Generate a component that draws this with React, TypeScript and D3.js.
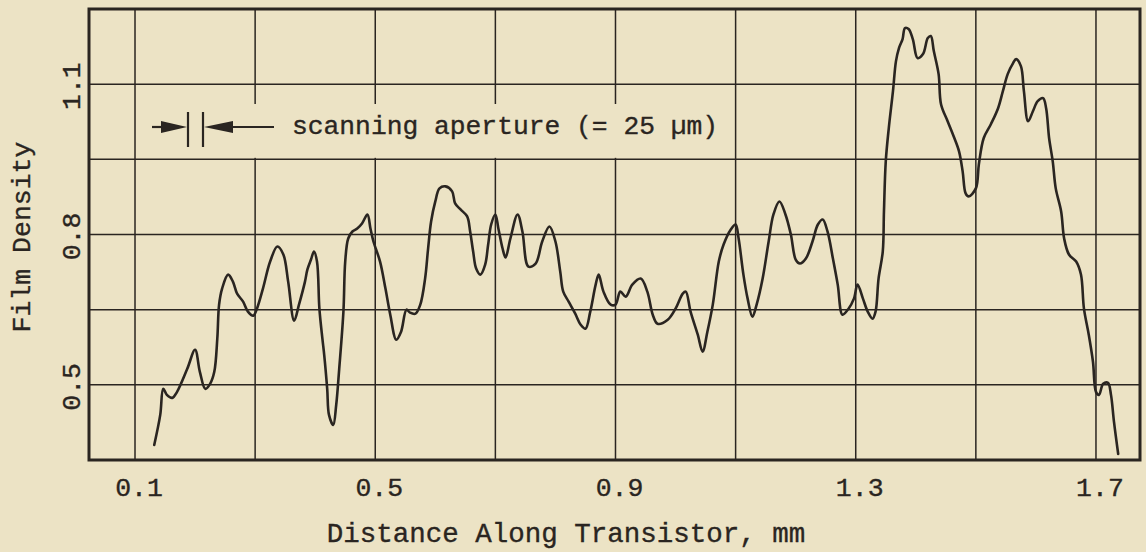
import React from "react";
import * as d3 from "d3";

const distance = [
  0.132, 0.142, 0.147, 0.153, 0.162, 0.170, 0.187, 0.200, 0.208, 0.217, 0.225, 0.232, 0.237, 0.240, 0.245, 0.255,
  0.263, 0.270, 0.280, 0.288, 0.297, 0.303, 0.313, 0.325, 0.337, 0.347, 0.355, 0.365, 0.373, 0.383, 0.387, 0.393,
  0.398, 0.403, 0.407, 0.412, 0.415, 0.420, 0.423, 0.430, 0.435, 0.440, 0.447, 0.450, 0.455, 0.462, 0.470, 0.478,
  0.487, 0.492, 0.497, 0.508, 0.517, 0.525, 0.535, 0.543, 0.552, 0.558, 0.567, 0.575, 0.583, 0.588, 0.593, 0.600,
  0.607, 0.617, 0.628, 0.633, 0.642, 0.653, 0.658, 0.663, 0.668, 0.675, 0.683, 0.688, 0.693, 0.700, 0.705, 0.712,
  0.717, 0.725, 0.737, 0.745, 0.755, 0.767, 0.778, 0.790, 0.800, 0.808, 0.813, 0.822, 0.833, 0.842, 0.850, 0.858,
  0.867, 0.872, 0.880, 0.892, 0.900, 0.908, 0.917, 0.928, 0.942, 0.953, 0.962, 0.970, 0.987, 1.000, 1.012, 1.017,
  1.025, 1.037, 1.045, 1.053, 1.062, 1.072, 1.080, 1.092, 1.100, 1.105, 1.113, 1.120, 1.128, 1.135, 1.145, 1.155,
  1.163, 1.173, 1.183, 1.192, 1.200, 1.207, 1.217, 1.228, 1.237, 1.245, 1.253, 1.262, 1.270, 1.278, 1.288, 1.297,
  1.303, 1.312, 1.320, 1.328, 1.333, 1.338, 1.345, 1.347, 1.350, 1.355, 1.362, 1.367, 1.372, 1.378, 1.382, 1.388,
  1.395, 1.403, 1.412, 1.420, 1.425, 1.430, 1.438, 1.442, 1.453, 1.463, 1.472, 1.478, 1.483, 1.488, 1.500, 1.505,
  1.513, 1.525, 1.537, 1.545, 1.553, 1.562, 1.567, 1.575, 1.580, 1.587, 1.595, 1.603, 1.612, 1.617, 1.622, 1.628,
  1.633, 1.642, 1.647, 1.655, 1.667, 1.675, 1.680, 1.688, 1.695, 1.700, 1.705, 1.712, 1.720, 1.725, 1.730, 1.737,
];

const density = [
  0.380, 0.440, 0.492, 0.480, 0.474, 0.486, 0.532, 0.570, 0.526, 0.492, 0.502, 0.526, 0.592, 0.660, 0.692, 0.720,
  0.706, 0.682, 0.666, 0.646, 0.638, 0.652, 0.692, 0.746, 0.776, 0.760, 0.706, 0.628, 0.660, 0.706, 0.730, 0.750,
  0.766, 0.746, 0.652, 0.592, 0.560, 0.492, 0.440, 0.420, 0.460, 0.532, 0.646, 0.746, 0.792, 0.806, 0.812, 0.822,
  0.840, 0.812, 0.786, 0.746, 0.692, 0.640, 0.590, 0.606, 0.650, 0.644, 0.642, 0.660, 0.712, 0.772, 0.826, 0.866,
  0.892, 0.896, 0.886, 0.862, 0.850, 0.836, 0.806, 0.766, 0.732, 0.720, 0.740, 0.780, 0.820, 0.840, 0.812, 0.772,
  0.754, 0.792, 0.840, 0.806, 0.736, 0.742, 0.786, 0.816, 0.786, 0.726, 0.686, 0.666, 0.642, 0.620, 0.612, 0.646,
  0.700, 0.720, 0.686, 0.660, 0.660, 0.686, 0.676, 0.700, 0.712, 0.686, 0.640, 0.622, 0.630, 0.652, 0.682, 0.686,
  0.646, 0.600, 0.566, 0.606, 0.660, 0.746, 0.780, 0.810, 0.820, 0.792, 0.720, 0.672, 0.636, 0.660, 0.712, 0.786,
  0.840, 0.866, 0.840, 0.800, 0.750, 0.742, 0.752, 0.786, 0.820, 0.830, 0.806, 0.752, 0.700, 0.640, 0.652, 0.672,
  0.700, 0.672, 0.646, 0.632, 0.646, 0.712, 0.766, 0.846, 0.946, 1.012, 1.086, 1.146, 1.172, 1.190, 1.212, 1.210,
  1.190, 1.152, 1.160, 1.192, 1.196, 1.166, 1.120, 1.060, 1.026, 0.996, 0.966, 0.926, 0.882, 0.876, 0.892, 0.940,
  0.992, 1.020, 1.052, 1.086, 1.120, 1.142, 1.150, 1.136, 1.086, 1.026, 1.046, 1.066, 1.072, 1.052, 0.992, 0.946,
  0.892, 0.846, 0.792, 0.760, 0.746, 0.720, 0.652, 0.600, 0.546, 0.486, 0.480, 0.502, 0.504, 0.480, 0.426, 0.362,
];

const xGridValues = [0.1, 0.3, 0.5, 0.7, 0.9, 1.1, 1.3, 1.5, 1.7];
const xTickLabels = ["0.1", "0.5", "0.9", "1.3", "1.7"];
const yGridValues = [0.5, 0.65, 0.8, 0.95, 1.1];
const yTickLabels = ["0.5", "0.8", "1.1"];

const xTitle = "Distance Along Transistor, mm";
const yTitle = "Film Density";
const annotation = "scanning aperture (= 25 \u00b5m)";

const W = 1146;
const H = 552;
const L = 89, R = 1140, T = 9, B = 460;
const INK = "#2a2521";
const BG = "#ece3c5";
const FONT = "'Liberation Mono', 'DejaVu Sans Mono', monospace";

export default function App() {
  const x = d3.scaleLinear().domain([0.0234, 1.7733]).range([L, R]);
  const y = d3.scaleLinear().domain([0.35, 1.25]).range([B, T]);

  const pts: [number, number][] = distance.map((d, i) => [d, density[i]]);
  const line = d3
    .line<[number, number]>()
    .x((d) => x(d[0]))
    .y((d) => y(d[1]))
    .curve(d3.curveCatmullRom.alpha(0.5));

  const ay = 127;
  const textProps = { fontFamily: FONT, fill: INK, stroke: INK, strokeWidth: 0.35 };
  return (
    <svg
      width={W}
      height={H}
      style={{ position: "absolute", left: 0, top: 0, background: BG }}
    >
      <rect x={0} y={0} width={W} height={H} fill={BG} />
      {/* grid */}
      {xGridValues.map((v) => (
        <line key={"xg" + v} x1={x(v)} x2={x(v)} y1={T} y2={B} stroke={INK} strokeWidth={1.5} />
      ))}
      {yGridValues.map((v) => (
        <line key={"yg" + v} x1={L} x2={R} y1={y(v)} y2={y(v)} stroke={INK} strokeWidth={1.5} />
      ))}
      {/* clear area behind annotation */}
      <rect x={x(0.1) + 3} y={104} width={590} height={y(0.95) - 104 - 1.5} fill={BG} />
      {/* frame */}
      <rect x={L} y={T} width={R - L} height={B - T} fill="none" stroke={INK} strokeWidth={3} />
      {/* curve */}
      <path d={line(pts) || ""} fill="none" stroke={INK} strokeWidth={2.6} strokeLinejoin="round" strokeLinecap="round" />
      {/* annotation arrows */}
      <line x1={152} x2={170} y1={ay} y2={ay} stroke={INK} strokeWidth={2.2} />
      <path d={`M 187 ${ay} L 161 ${ay - 6} L 161 ${ay + 6} Z`} fill={INK} />
      <line x1={188} x2={188} y1={112} y2={147} stroke={INK} strokeWidth={2.2} />
      <line x1={203} x2={203} y1={112} y2={147} stroke={INK} strokeWidth={2.2} />
      <path d={`M 204 ${ay} L 233 ${ay - 6} L 233 ${ay + 6} Z`} fill={INK} />
      <line x1={230} x2={274} y1={ay} y2={ay} stroke={INK} strokeWidth={2.2} />
      <text x={292} y={134} fontSize={26.3} {...textProps}>
        {annotation}
      </text>
      {/* x tick labels */}
      {xTickLabels.map((t) => (
        <text key={"xt" + t} x={x(+t) + 4} y={496} textAnchor="middle" fontSize={26.5} {...textProps}>
          {t}
        </text>
      ))}
      {/* y tick labels */}
      {yTickLabels.map((t) => (
        <text
          key={"yt" + t}
          transform={`translate(80, ${y(+t) + 2}) rotate(-90)`}
          textAnchor="middle"
          fontSize={26.5}
          {...textProps}
        >
          {t}
        </text>
      ))}
      <text x={566} y={542} textAnchor="middle" fontSize={27.5} {...textProps}>
        {xTitle}
      </text>
      <text transform={`translate(30, 237) rotate(-90)`} textAnchor="middle" fontSize={26.5} {...textProps}>
        {yTitle}
      </text>
    </svg>
  );
}
